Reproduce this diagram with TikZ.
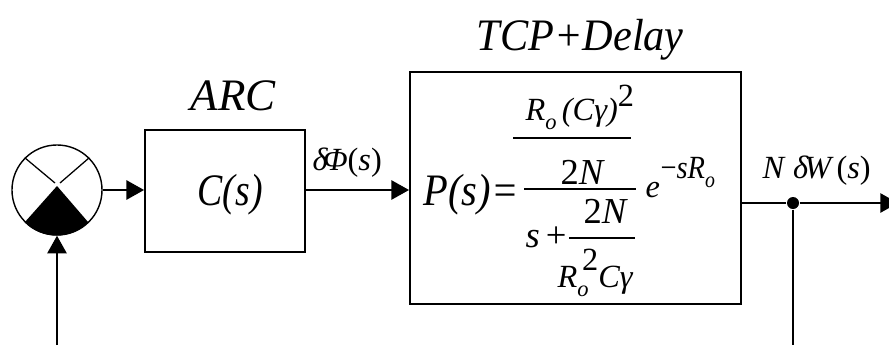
\documentclass[tikz,border=0pt]{standalone}
\usepackage{fontspec}
\setmainfont{Liberation Serif}
\usepackage{tikz}
\usetikzlibrary{arrows.meta}
\newcommand{\subo}{\raisebox{-0.28em}{\fontsize{16}{16}\selectfont o}}
\begin{document}
\begin{tikzpicture}[
    x=0.025cm,
    y=0.025cm,
    thick,
    block/.style={rectangle, draw=black, line width=1.3pt, inner sep=0pt},
    arrow/.style={line width=1.3pt, -{Triangle[length=0.44cm,width=0.48cm]}},
    wire/.style={line width=1.3pt},
    biglabel/.style={inner sep=0pt, anchor=base west, font=\itshape\fontsize{32}{32}\selectfont},
    midlabel/.style={inner sep=0pt, anchor=base west, font=\itshape\fontsize{26}{26}\selectfont},
    smalllabel/.style={inner sep=0pt, anchor=base west, font=\itshape\fontsize{23}{23}\selectfont},
    frac/.style={line width=1.1pt}
]
\clip (0,0) rectangle (889,345);

% Summing junction
\node[circle, draw=black, line width=1pt, minimum size=2.25cm, inner sep=0pt] (sumcirc) at (57,155) {};
\coordinate (apex) at (57,159);
\fill[black] (apex) -- (sumcirc.225) arc[start angle=225, end angle=315, radius=45] -- cycle;
\draw[line width=0.9pt] (sumcirc.135) -- (55,162);
\draw[line width=0.9pt] (sumcirc.45) -- (60,162);

% Blocks
\node[block, minimum width=4cm, minimum height=3.05cm] (arcbox) at (225,154) {};
\node[block, minimum width=8.275cm, minimum height=5.8cm] (tcpbox) at (575.5,157) {};
\node[circle, fill=black, inner sep=0pt, minimum size=0.3cm] (branch) at (793,142) {};

% Free ends
\coordinate (fbstart) at (57,0);
\coordinate (fbend) at (793,0);
\coordinate (outend) at (898,142);

% Connectors
\draw[arrow] (fbstart) -- (sumcirc.south);
\draw[arrow] (sumcirc.east) -- (arcbox.west |- sumcirc.east);
\draw[arrow] (arcbox.east |- sumcirc.east) -- (tcpbox.west |- sumcirc.east);
\draw[wire] (tcpbox.east |- branch) -- (branch);
\draw[arrow] (branch) -- (outend);
\draw[wire] (branch) -- (fbend);

% Labels
\node[biglabel] (arclabel) at (190,235) {ARC};
\node[biglabel] (tcplabel) at (476,295) {\scalebox{0.94}[1]{TCP+Delay}};
\node[biglabel] (clabel) at (197,140) {\scalebox{0.84}[1]{C(s)}};
\node[smalllabel] (philabel) at (312,175) {δ\kern-0.14emΦ{\upshape(}s{\upshape)}};
\node[smalllabel] (wlabel) at (762,167) {N\;δ\kern-0.12emW\,{\upshape(}s{\upshape)}};

% Transfer function
\node[biglabel] (plabel) at (423,140) {\scalebox{0.9}[1]{P(s)=}};
\node[smalllabel] (numtop) at (525,225) {R\subo\,(Cγ)\raisebox{0.42em}{\upshape 2}};
\node[midlabel] (numtwo) at (560,161) {\upshape 2\itshape N};
\node[midlabel] (dentwo) at (583,122) {\upshape 2\itshape N};
\node[midlabel] (denplus) at (525,98) {s\,\upshape+};
\node[smalllabel] (denbot) at (557,58) {R\subo\kern-0.2em\raisebox{0.5em}{\upshape 2}Cγ};
\node[smalllabel] (expe) at (645,148) {e};
\node[smalllabel] (expo) at (660,167) {\scalebox{0.88}[1]{\upshape−\itshape sR\subo}};
\draw[frac] (513,207) -- (631,207);
\draw[frac] (524,156) -- (636,156);
\draw[frac] (569,107) -- (635,107);

\end{tikzpicture}
\end{document}
